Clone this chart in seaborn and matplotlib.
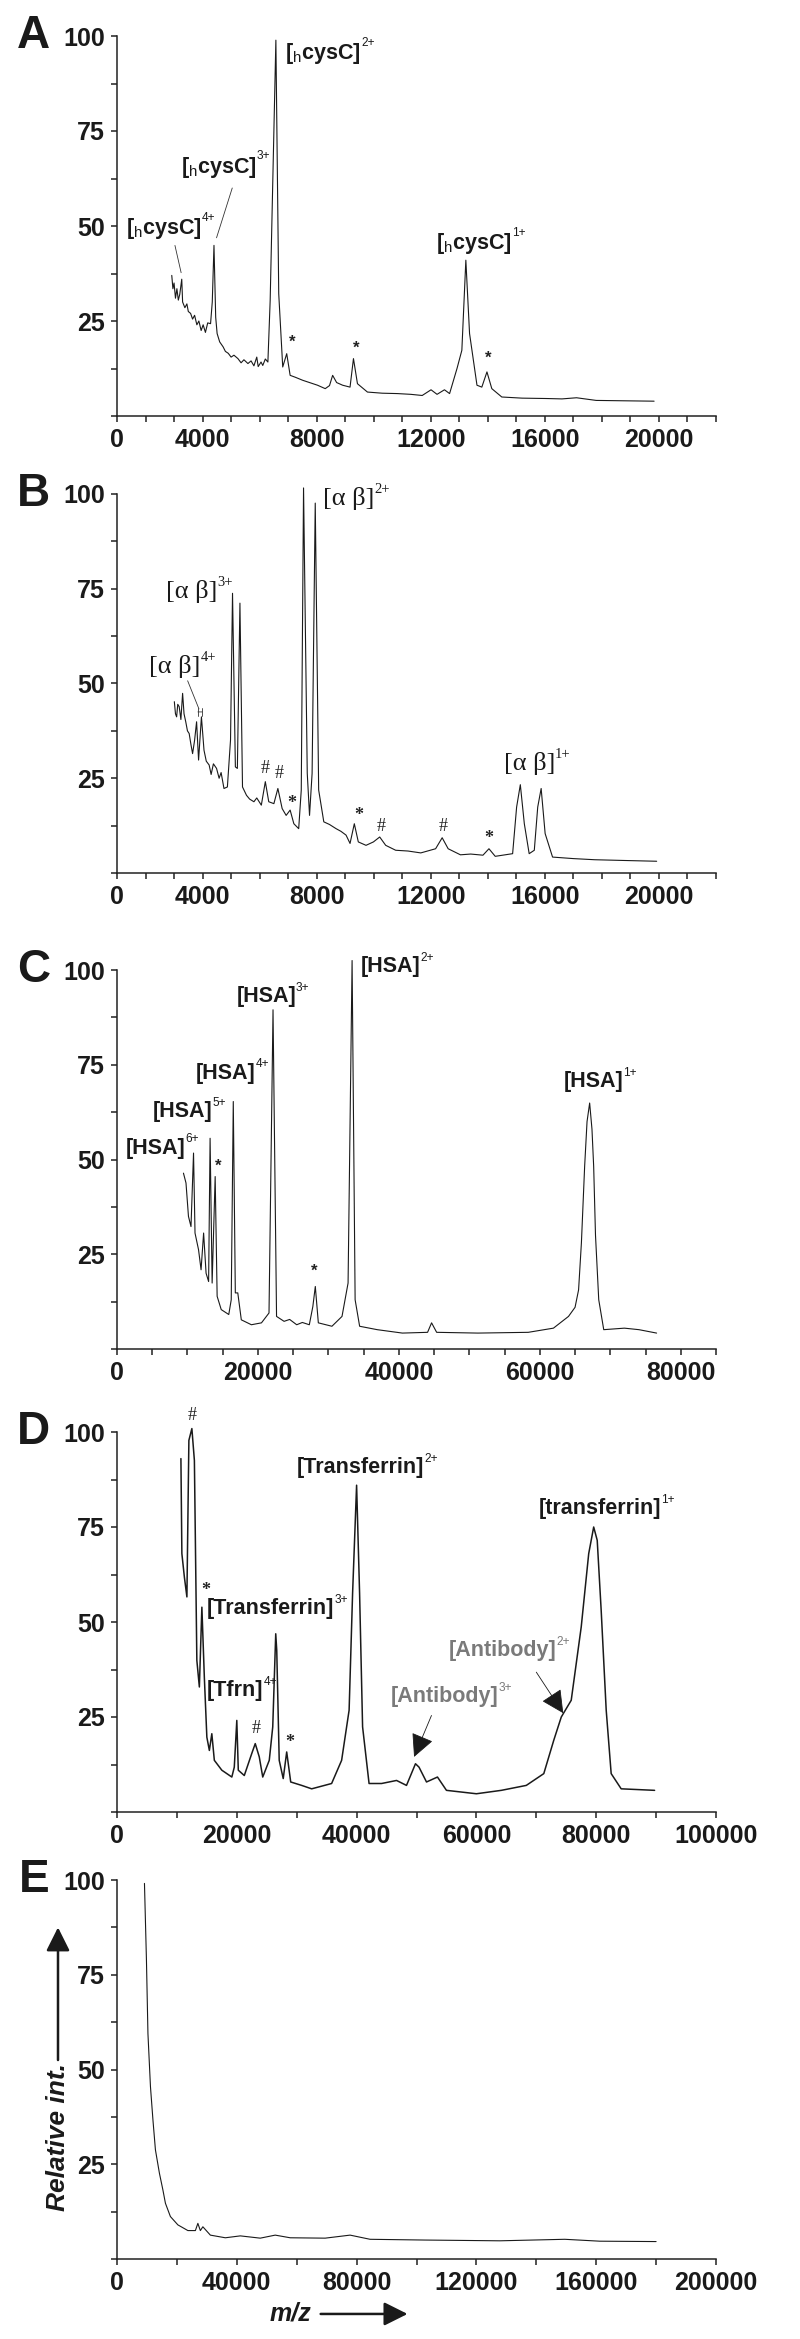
import numpy as np
import pandas as pd
import matplotlib
matplotlib.use("Agg")
import matplotlib.pyplot as plt
import seaborn as sns

# --- spectra (m/z, relative intensity) ---
a_mz = [2920, 2960, 3000, 3050, 3100, 3150, 3200, 3270, 3300, 3380, 3450, 3500, 3580, 3650,
        3720, 3800, 3870, 3950, 4020, 4100, 4180, 4280, 4340, 4400, 4460, 4510, 4600, 4720,
        4800, 4900, 5000, 5100, 5240, 5350, 5450, 5590, 5700, 5800, 5900, 5950, 6050, 6110,
        6200, 6290, 6370, 6570, 6670, 6810, 6950, 7070, 7250, 7510, 7750, 8030, 8300, 8450,
        8560, 8700, 8910, 9170, 9290, 9430, 9780, 10300, 10830, 11300, 11700, 12010, 12220,
        12480, 12660, 12920, 13090, 13230, 13360, 13620, 13790, 13970, 14140, 14490, 15200,
        16060, 16600, 17110, 17800, 18800, 19830]
a_int = [37.0, 33.5, 35.0, 31.0, 33.5, 30.5, 32.0, 36.0, 30.0, 28.5, 29.5, 27.5, 27.0, 25.5,
         26.5, 24.0, 25.0, 22.5, 24.0, 22.0, 24.5, 24.3, 30.0, 44.9, 26.0, 21.7, 19.5, 18.2,
         17.0, 16.5, 15.5, 16.0, 15.1, 14.0, 14.8, 13.8, 14.5, 13.2, 15.5, 13.0, 14.2, 13.3,
         15.0, 14.2, 30.4, 98.9, 32.2, 12.9, 16.4, 10.7, 10.2, 9.4, 8.8, 8.1, 7.2, 8.0,
         10.7, 8.8, 8.1, 7.6, 15.1, 8.5, 6.3, 6.0, 5.9, 5.7, 5.4, 6.9, 5.7,
         6.9, 5.9, 12.5, 17.3, 41.0, 21.7, 8.1, 7.6, 11.6, 7.2, 5.0, 4.7,
         4.6, 4.5, 4.8, 4.1, 4.0, 3.9]

b_mz = [3010, 3050, 3090, 3130, 3180, 3240, 3300, 3350, 3410, 3470, 3530, 3590, 3650, 3720,
        3790, 3860, 3960, 4050, 4130, 4230, 4300, 4380, 4490, 4580, 4650, 4750, 4870, 4980,
        5050, 5150, 5220, 5310, 5400, 5540, 5650, 5800, 5900, 6060, 6200, 6320, 6500, 6640,
        6790, 6930, 7070, 7200, 7370, 7460, 7540, 7670, 7750, 7840, 7950, 8070, 8250, 8450,
        8680, 8850, 9030, 9170, 9320, 9460, 9730, 9990, 10210, 10420, 10770, 11200, 11650,
        12170, 12400, 12610, 13040, 13400, 13830, 14040, 14260, 14870, 15010, 15140, 15280,
        15450, 15630, 15750, 15870, 16010, 16270, 17000, 17750, 18800, 19920]
b_int = [45.2, 42.0, 41.2, 44.5, 43.9, 40.5, 47.4, 42.0, 39.9, 37.5, 36.8, 34.0, 31.5, 35.0,
         39.9, 29.8, 41.2, 32.4, 29.5, 28.5, 26.0, 28.8, 27.6, 25.0, 26.5, 22.3, 22.7, 35.1,
         73.8, 28.0, 27.6, 71.2, 22.7, 20.5, 19.5, 18.8, 19.8, 17.9, 24.1, 18.8, 18.3, 22.3,
         17.0, 15.2, 16.6, 13.0, 11.7, 21.9, 101.6, 26.3, 15.2, 26.3, 97.6, 21.9, 13.5, 12.8,
         11.7, 11.0, 10.0, 7.8, 13.0, 8.2, 7.3, 8.2, 9.5, 7.3, 6.0, 5.8, 5.3,
         6.4, 9.3, 6.4, 4.8, 5.0, 4.7, 6.4, 4.4, 5.1, 17.4, 23.3, 13.0,
         5.1, 6.0, 17.4, 22.3, 10.4, 4.2, 3.8, 3.5, 3.3, 3.1]

c_mz = [9430, 9790, 10140, 10500, 10860, 11070, 11570, 11930, 12290, 12640, 13000, 13210,
        13500, 13930, 14210, 14790, 15860, 16210, 16500, 16790, 17140, 17640, 19070, 20500,
        21570, 22140, 22640, 23710, 24500, 25500, 26300, 27290, 27790, 28140, 28570, 30500,
        31930, 32790, 33360, 33790, 34430, 36930, 40500, 44070, 44640, 45360, 51210, 58360,
        61930, 64070, 65000, 65500, 65900, 66360, 66700, 67070, 67400, 67640, 67900, 68360,
        69070, 72000, 74070, 76570]
c_int = [46.4, 43.8, 35.0, 32.3, 51.7, 30.6, 26.2, 20.9, 30.6, 20.0, 17.8, 55.6,
         17.4, 45.5, 13.9, 10.4, 9.1, 13.0, 65.3, 14.8, 14.8, 7.7, 6.4, 6.9,
         9.5, 89.5, 8.6, 7.3, 7.8, 6.4, 7.0, 6.4, 11.2, 16.5, 6.9, 6.0,
         8.6, 17.4, 102.5, 13.0, 6.0, 5.1, 4.2, 4.4, 6.9, 4.4, 4.2, 4.4,
         5.5, 8.6, 11.0, 15.6, 28.0, 48.2, 60.0, 64.9, 58.0, 48.2, 30.0, 13.0,
         5.1, 5.5, 5.1, 4.2]

d_mz = [10670, 10830, 11250, 11670, 12000, 12500, 12920, 13330, 13750, 14170, 14580, 15000,
        15420, 15830, 16250, 17500, 19170, 19580, 20000, 20250, 21250, 22500, 23080, 23750,
        24330, 25420, 26000, 26500, 26670, 27080, 27750, 28330, 29000, 30830, 32500, 35830,
        37500, 38750, 39330, 40000, 40500, 41000, 42080, 44170, 46670, 48330, 49830, 50420,
        51670, 53500, 55000, 60000, 64170, 68330, 71250, 72920, 74170, 75830, 77500, 78750,
        79580, 80170, 80830, 81670, 82500, 84170, 89750]
d_int = [93.0, 68.0, 61.8, 56.6, 97.8, 100.9, 92.5, 39.9, 32.9, 53.9, 35.5, 19.7,
         16.2, 20.6, 13.6, 11.0, 9.2, 11.8, 24.1, 11.0, 9.6, 15.4, 18.0, 14.5,
         9.2, 13.6, 22.4, 46.9, 42.5, 13.6, 8.8, 15.8, 7.9, 7.0, 6.1, 7.5,
         13.6, 26.8, 57.5, 86.0, 57.5, 22.4, 7.5, 7.5, 8.3, 7.0, 12.7, 11.8,
         7.9, 9.2, 5.7, 4.8, 5.7, 7.0, 10.1, 18.9, 25.0, 29.4, 48.7, 68.0,
         75.0, 71.5, 53.1, 26.8, 10.1, 6.1, 5.7]

e_mz = [9170, 9830, 10330, 11170, 12000, 12830, 14170, 15330, 16170, 17830, 20330, 23670,
        26170, 27000, 27830, 28670, 31170, 36170, 41170, 47830, 52830, 57830, 69500, 77830,
        84500, 102830, 127830, 149500, 161170, 180000]
e_int = [99.1, 78.9, 59.5, 45.5, 36.7, 28.8, 22.6, 18.2, 14.7, 11.2, 9.0, 7.5,
         7.5, 9.4, 7.5, 8.5, 6.3, 5.6, 6.1, 5.5, 6.3, 5.6, 5.5, 6.3,
         5.2, 5.0, 4.8, 5.2, 4.7, 4.6]

# axis ticks per panel
ab_ticks = [1000, 4000, 8000, 12000, 16000, 20000]
ab_ticklabels = ["0", "4000", "8000", "12000", "16000", "20000"]
c_ticks = [0, 20000, 40000, 60000, 80000]
d_ticks = [0, 20000, 40000, 60000, 80000, 100000]
e_ticks = [0, 40000, 80000, 120000, 160000, 200000]
y_ticks = [0, 25, 50, 75, 100]
y_ticklabels = ["", "25", "50", "75", "100"]

# peak labels: (x, y, text, charge)
a_labels = [(1310, 49.3, r"[$_{\mathrm{h}}$cysC]", "4+"), (3230, 65.5, r"[$_{\mathrm{h}}$cysC]", "3+"),
            (6900, 95.4, r"[$_{\mathrm{h}}$cysC]", "2+"), (12190, 45.4, r"[$_{\mathrm{h}}$cysC]", "1+")]
b_labels = [(2130, 54.4, "[\u03b1 \u03b2]", "4+"), (2710, 74.3, "[\u03b1 \u03b2]", "3+"),
            (8230, 98.9, "[\u03b1 \u03b2]", "2+"), (14560, 28.9, "[\u03b1 \u03b2]", "1+")]
c_labels = [(1210, 53.0, "[HSA]", "6+"), (5140, 62.7, "[HSA]", "5+"), (11210, 72.8, "[HSA]", "4+"),
            (16930, 93.0, "[HSA]", "3+"), (34640, 100.9, "[HSA]", "2+"), (63360, 70.6, "[HSA]", "1+")]
d_labels = [(15000, 53.5, "[Transferrin]", "3+"), (15000, 32.0, "[Tfrn]", "4+"),
            (30000, 90.6, "[Transferrin]", "2+"), (70420, 79.8, "[transferrin]", "1+")]
d_grey_labels = [(55420, 42.5, "[Antibody]", "2+"), (45670, 30.3, "[Antibody]", "3+")]

a_marks = [(7130, 19.5, "*"), (9380, 17.7, "*"), (14020, 15.1, "*")]
b_marks = [(6200, 27.6, "#"), (6680, 26.3, "#"), (7110, 18.3, "*"), (9460, 15.2, "*"),
           (10250, 12.2, "#"), (12430, 12.2, "#"), (14040, 9.1, "*")]
c_marks = [(14290, 48.2, "*"), (28000, 20.5, "*")]
d_marks = [(12500, 104.4, "#"), (14830, 58.3, "*"), (23170, 21.9, "#"), (28920, 18.4, "*")]

sns.set_theme(style="ticks")
plt.rcParams["font.family"] = ["Liberation Sans", "DejaVu Sans"]
plt.rcParams["mathtext.fontset"] = "custom"
plt.rcParams["mathtext.rm"] = "Liberation Sans"
plt.rcParams["mathtext.bf"] = "Liberation Sans:bold"

fig = plt.figure(figsize=(8, 23.39), dpi=100)
H = 2339.0


def make_axes(top, bottom):
    return fig.add_axes([117 / 800, 1 - bottom / H, 599 / 800, (bottom - top) / H])


def style_axes(ax, xlim, ticks, ticklabels, minor, letter):
    ax.set_xlim(*xlim)
    ax.set_ylim(0, 100)
    ax.set_xticks(ticks)
    ax.set_xticklabels(ticklabels)
    ax.set_xticks(minor, minor=True)
    ax.set_yticks(y_ticks)
    ax.set_yticklabels(y_ticklabels)
    ax.set_yticks([12.5, 37.5, 62.5, 87.5], minor=True)
    ax.tick_params(which="both", length=4.5, width=1.1, direction="out", color="#222")
    ax.tick_params(labelsize=18, pad=4)
    for lab in ax.get_xticklabels() + ax.get_yticklabels():
        lab.set_fontweight("bold")
        lab.set_color("#1a1a1a")
    sns.despine(ax=ax)
    for s in ("left", "bottom"):
        ax.spines[s].set_linewidth(1.1)
        ax.spines[s].set_color("#222")
    ax.set_xlabel("")
    ax.set_ylabel("")
    ax.text(-0.139, 1.0, letter, transform=ax.transAxes, fontsize=33, fontweight="bold",
            ha="center", va="center", color="#1a1a1a")
    for ln in ax.lines:
        ln.set_clip_on(False)


def tag(ax, x, y, main, sup, size, family, weight, color):
    t = ax.text(x, y, main, fontsize=size, family=family, fontweight=weight, color=color,
                ha="left", va="center")
    ax.annotate(sup, xy=(1, 1), xycoords=t, xytext=(0, 3), textcoords="offset points",
                ha="left", va="top", fontsize=size * 0.55, family=family, color=color)


def marks(ax, items, family, size=12):
    for x, y, s in items:
        ax.text(x, y, s, ha="center", va="center", fontsize=size, family=family,
                fontweight="bold" if s == "*" else "normal", color="#222")


def spectrum(ax, mz, inten, lw=0.8):
    df = pd.DataFrame({"mz": mz, "int": inten})
    sns.lineplot(data=df, x="mz", y="int", ax=ax, color="#1a1a1a", linewidth=lw,
                 estimator=None, sort=False)


panels = [(36, 416), (494, 873), (970, 1349), (1432, 1812), (1880, 2259)]

# A
ax = make_axes(*panels[0])
spectrum(ax, a_mz, a_int)
style_axes(ax, (1000, 22000), ab_ticks, ab_ticklabels, np.arange(1000, 22001, 1000), "A")
for x, y, m, s in a_labels:
    tag(ax, x, y, m, s, 15.5, ["Liberation Sans"], "bold", "#1a1a1a")
marks(ax, a_marks, ["Liberation Sans"])
for p0, p1 in [((3010, 45.6), (3270, 37.0)), ((5070, 60.7), (4460, 46.2))]:
    ax.annotate("", xy=p1, xytext=p0, arrowprops=dict(arrowstyle="-", lw=0.6, color="#333"))

# B
ax = make_axes(*panels[1])
spectrum(ax, b_mz, b_int)
style_axes(ax, (1000, 22000), ab_ticks, ab_ticklabels, np.arange(1000, 22001, 1000), "B")
for x, y, m, s in b_labels:
    tag(ax, x, y, m, s, 19, ["Liberation Serif"], "normal", "#1a1a1a")
marks(ax, b_marks, ["Liberation Serif"], 13)
ax.annotate("", xy=(3910, 42.6), xytext=(3440, 51.4), arrowprops=dict(arrowstyle="-", lw=0.6, color="#333"))
ax.annotate("", xy=(4090, 42.5), xytext=(3740, 42.5),
            arrowprops=dict(arrowstyle="|-|,widthA=0.25,widthB=0.25", lw=0.6, color="#333"))

# C
ax = make_axes(*panels[2])
spectrum(ax, c_mz, c_int)
style_axes(ax, (0, 85000), c_ticks, [str(t) for t in c_ticks], np.arange(0, 85001, 5000), "C")
for x, y, m, s in c_labels:
    tag(ax, x, y, m, s, 15.5, ["Liberation Sans"], "bold", "#1a1a1a")
marks(ax, c_marks, ["Liberation Sans"])

# D
ax = make_axes(*panels[3])
spectrum(ax, d_mz, d_int, lw=1.1)
style_axes(ax, (0, 100000), d_ticks, [str(t) for t in d_ticks], np.arange(0, 100001, 10000), "D")
for x, y, m, s in d_labels:
    tag(ax, x, y, m, s, 15.5, ["Liberation Sans"], "bold", "#1a1a1a")
for x, y, m, s in d_grey_labels:
    tag(ax, x, y, m, s, 15.5, ["Liberation Sans"], "bold", "#7a7a7a")
marks(ax, d_marks, ["Liberation Serif"], 13)
for p0, p1 in [((52500, 25.4), (49600, 14.5)), ((70000, 36.8), (74500, 26.0))]:
    ax.annotate("", xy=p1, xytext=p0,
                arrowprops=dict(arrowstyle="-|>,head_length=0.9,head_width=0.45", lw=0.6,
                                color="#1a1a1a", shrinkA=0, shrinkB=0, mutation_scale=16))

# E
ax = make_axes(*panels[4])
spectrum(ax, e_mz, e_int)
style_axes(ax, (0, 200000), e_ticks, [str(t) for t in e_ticks], np.arange(0, 200001, 20000), "E")
ax.text(-0.0985, 0.322, "Relative int.", transform=ax.transAxes, rotation=90, fontsize=19,
        fontweight="bold", fontstyle="italic", ha="center", va="center", color="#1a1a1a")
ax.annotate("", xy=(-0.0985, 0.875), xytext=(-0.0985, 0.525), xycoords="axes fraction",
            textcoords="axes fraction",
            arrowprops=dict(arrowstyle="-|>,head_length=0.8,head_width=0.4", lw=1.8,
                            color="#1a1a1a", shrinkA=0, shrinkB=0, mutation_scale=18))
ax.text(0.29, -0.145, "m/z", transform=ax.transAxes, fontsize=18, fontweight="bold",
        fontstyle="italic", ha="center", va="center", color="#1a1a1a")
ax.annotate("", xy=(0.485, -0.145), xytext=(0.34, -0.145), xycoords="axes fraction",
            textcoords="axes fraction",
            arrowprops=dict(arrowstyle="-|>,head_length=0.8,head_width=0.4", lw=1.8,
                            color="#1a1a1a", shrinkA=0, shrinkB=0, mutation_scale=18))

fig.savefig("out.png", dpi=100, facecolor="white")
